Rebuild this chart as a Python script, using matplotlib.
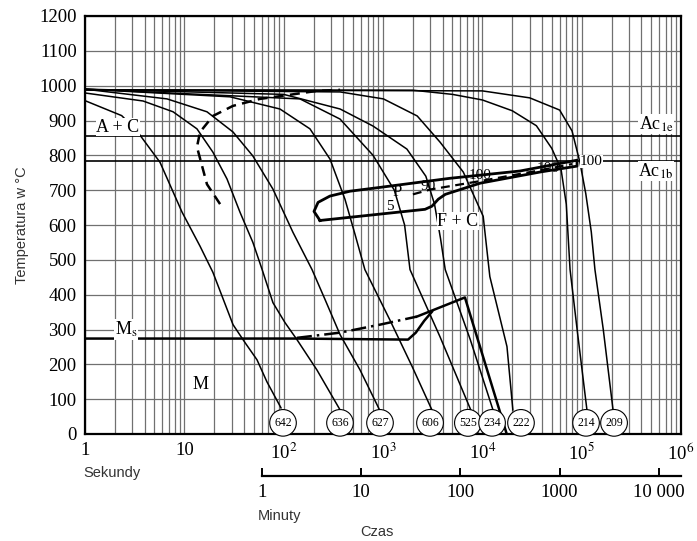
import matplotlib.pyplot as plt
import numpy as np
from matplotlib.ticker import NullLocator, NullFormatter, LogLocator

plt.rcParams['mathtext.fontset'] = 'stix'
SERIF = 'Liberation Serif'
SANS = 'Liberation Sans'

# cooling curves (time in s, temperature in deg C), name = hardness at end
t_642 = [1, 2.34, 3.31, 5.69, 9.48, 14.4, 19.4, 30.9, 40.9, 53.9, 67.8, 94]
T_642 = [957, 914, 871, 780, 637, 539, 464, 314, 262, 213, 150, 75]

t_636 = [1, 3.84, 7.7, 13.4, 19.4, 26.9, 36.3, 49, 60.7, 78, 103, 136, 216, 370]
T_636 = [979, 956, 925, 876, 809, 732, 637, 550, 472, 377, 320, 271, 184, 69]

t_627 = [1, 6.7, 16.9, 30.9, 49, 78, 124, 193, 261, 370, 587, 935]
T_627 = [990, 962, 925, 867, 798, 703, 579, 472, 386, 285, 184, 66]

t_606 = [1, 28.8, 91.7, 184, 293, 414, 523, 657, 1170, 1970, 3110]
T_606 = [990, 968, 933, 876, 789, 674, 573, 472, 328, 193, 69]

t_525 = [1, 146, 370, 794, 1300, 1650, 1870, 3750, 7890]
T_525 = [990, 962, 904, 800, 700, 600, 472, 279, 60]

t_234 = [1, 100, 370, 794, 1740, 2700, 3300, 3800, 4230, 7560, 12800]
T_234 = [990, 975, 933, 884, 818, 740, 660, 560, 472, 271, 69]

t_222 = [1, 370, 1010, 2210, 3750, 6430, 10200, 11900, 17700, 20300]
T_222 = [988, 982, 962, 913, 838, 752, 625, 452, 251, 69]

t_214 = [1, 2000, 5000, 10000, 20000, 35000, 50000, 62000, 70000, 76400, 90000, 113000]
T_214 = [988, 987, 975, 959, 928, 885, 820, 760, 660, 472, 300, 69]

t_209 = [1, 10000, 30000, 60000, 80000, 96000, 110000, 125000, 136000, 165000, 207000]
T_209 = [988, 985, 965, 930, 870, 780, 690, 580, 472, 300, 69]

# start of transformation (dashed)
t_dash = [22.9, 16.9, 13.4, 14.4, 19.4, 30.9, 57.7, 98.5, 216, 370]
T_dash = [660, 717, 824, 867, 913, 942, 962, 971, 985, 988]

# pearlite field outline
t_p = [232, 202, 222, 292, 465, 935, 4700, 23900, 89800, 89800, 38000, 9490, 4240, 3600, 3110, 2650, 232]
T_p = [613, 639, 665, 683, 697, 708, 734, 755, 786, 769, 752, 720, 688, 674, 654, 645, 613]

# 100 % line inside pearlite field
t_p100 = [2000, 3000, 9490, 38000, 80000]
T_p100 = [688, 702, 726, 757, 775]

# Ms and bainite lines
t_ms = [1, 136, 1787, 2140, 2600, 3110]
T_ms = [274, 274, 271, 291, 325, 351]
t_dd = [136, 370, 935, 2190]
T_dd = [276, 291, 314, 337]
t_b = [2190, 6680, 17600]
T_b = [337, 392, 0]

Ac1e = 855
Ac1b = 785

hardness = ['642', '636', '627', '606', '525', '234', '222', '214', '209']
hard_t = [98.5, 369, 933, 2975, 7170, 12530, 24500, 110700, 211800]

sec_ticks = [1, 10, 100, 1000, 10000]
sec_labels = ['1', '10', '100', '1000', '10 000']

fig = plt.figure(figsize=(6.97, 5.41), dpi=100)
ax = fig.add_axes([85 / 697, 1 - 434 / 541, 596 / 697, 418 / 541])
ax.set_xscale('log')
ax.set_xlim(1, 1e6)
ax.set_ylim(0, 1200)

ax.xaxis.set_major_locator(LogLocator(base=10, numticks=10))
ax.xaxis.set_minor_locator(LogLocator(base=10, subs=np.arange(2, 10), numticks=100))
ax.xaxis.set_minor_formatter(NullFormatter())
ax.set_xticks([1, 10, 100, 1e3, 1e4, 1e5, 1e6],
              ['1', '10', '10$^2$', '10$^3$', '10$^4$', '10$^5$', '10$^6$'])
ax.set_yticks(np.arange(0, 1201, 100))
ax.grid(which='both', axis='x', color='#707070', lw=0.9)
ax.grid(which='major', axis='y', color='#707070', lw=0.9)
ax.tick_params(which='both', length=0, labelsize=13.5, pad=6)
for lab in ax.get_xticklabels() + ax.get_yticklabels():
    lab.set_family(SERIF)
for s in ax.spines.values():
    s.set_linewidth(1.6)

ax.axhline(Ac1e, color='k', lw=1.2, zorder=2)
ax.axhline(Ac1b, color='k', lw=1.2, zorder=2)

curves = [(t_642, T_642), (t_636, T_636), (t_627, T_627), (t_606, T_606),
          (t_525, T_525), (t_234, T_234), (t_222, T_222), (t_214, T_214),
          (t_209, T_209)]
for t, T in curves:
    ax.plot(t, T, color='k', lw=1.1, zorder=3)

ax.plot(t_dash, T_dash, color='k', lw=1.8, ls=(0, (4, 2.5)), zorder=3)
ax.plot(t_p, T_p, color='k', lw=2.0, zorder=4)
ax.plot(t_p100, T_p100, color='k', lw=1.6, ls=(0, (4, 2.5)), zorder=4)
ax.plot(t_ms, T_ms, color='k', lw=1.8, zorder=4)
ax.plot(t_dd, T_dd, color='k', lw=1.8, ls=(0, (6, 2, 1, 2)), zorder=4)
ax.plot(t_b, T_b, color='k', lw=1.8, zorder=4)

for lab, t in zip(hardness, hard_t):
    ax.text(t, 32, lab, ha='center', va='center', fontsize=8.5, family=SERIF,
            zorder=6, bbox=dict(boxstyle='circle,pad=0.38', fc='white', ec='k', lw=0.8))

box = dict(fc='white', ec='none', pad=0.5)
ax.text(2.15, 881, 'A + C', ha='center', va='center', fontsize=13, family=SERIF, bbox=box, zorder=5)
ax.text(2.6, 300, r'M$_\mathrm{s}$', ha='center', va='center', fontsize=13, family=SERIF, bbox=box, zorder=5)
ax.text(14.4, 141, 'M', ha='center', va='center', fontsize=13, family=SERIF, zorder=5)
ax.text(5690, 611, 'F + C', ha='center', va='center', fontsize=13, family=SERIF, bbox=box, zorder=5)
ax.text(1384, 694, 'P', ha='center', va='center', fontsize=12, family=SERIF, zorder=5)
ax.text(1177, 654, '5', ha='center', va='center', fontsize=11, family=SERIF, zorder=5)
ax.text(2840, 710, '90', ha='center', va='center', fontsize=11, family=SERIF, zorder=5)
ax.text(9490, 742, '100', ha='center', va='center', fontsize=11, family=SERIF, zorder=5)
ax.text(45800, 762, '100', ha='center', va='center', fontsize=11, family=SERIF, zorder=5)
ax.text(125000, 782, '100', ha='center', va='center', fontsize=11, family=SERIF, bbox=dict(fc='white', ec='none', pad=0.2), zorder=5)
ax.text(560000, 890, r'Ac$_\mathrm{1e}$', ha='center', va='center', fontsize=13, family=SERIF, bbox=box, zorder=5)
ax.text(560000, 755, r'Ac$_\mathrm{1b}$', ha='center', va='center', fontsize=13, family=SERIF, bbox=box, zorder=5)

# minutes axis
sec = ax.secondary_xaxis(-0.1, functions=(lambda x: x / 60, lambda x: x * 60))
sec.set_xticks(sec_ticks, sec_labels)
sec.xaxis.set_minor_locator(NullLocator())
sec.spines['bottom'].set_bounds(1, 1e6 / 60)
sec.spines['bottom'].set_linewidth(1.6)
sec.tick_params(direction='in', length=6, width=1.4, labelsize=13.5, pad=6)
for lab in sec.get_xticklabels():
    lab.set_family(SERIF)

def px(x, y):
    return x / 697, 1 - y / 541

fig.text(*px(83, 473), 'Sekundy', ha='left', va='center', fontsize=10.5, family=SANS, color='#333333')
fig.text(*px(258, 516), 'Minuty', ha='left', va='center', fontsize=10.5, family=SANS, color='#333333')
fig.text(*px(377, 532), 'Czas', ha='center', va='center', fontsize=10.5, family=SANS, color='#333333')
fig.text(*px(22, 225), 'Temperatura w °C', ha='center', va='center', rotation=90, fontsize=10.5, family=SANS, color='#333333')

fig.savefig('out.png', dpi=100)
